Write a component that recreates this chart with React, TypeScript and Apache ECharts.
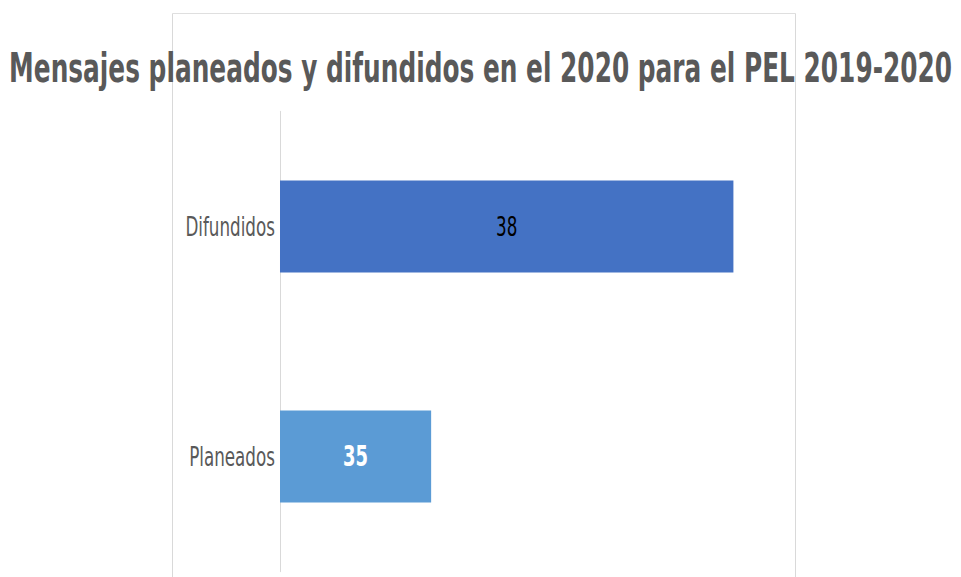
import React, { useEffect, useRef } from "react";
import * as echarts from "echarts";

const titleText = "Mensajes planeados y difundidos en el 2020 para el PEL 2019-2020";
const categories = ["Planeados", "Difundidos"];
const values = [35, 38];
const barColors = ["#5B9BD5", "#4472C4"];

// the reference is horizontally condensed: draw wider, then squeeze
const S = 0.69;
const W = 961 / S;
const px = (x: number) => x / S;

export default function App() {
  const ref = useRef<HTMLDivElement>(null);
  useEffect(() => {
    if (!ref.current) return;
    const chart = echarts.init(ref.current, null, { renderer: "svg" });
    const font = "'DejaVu Sans Condensed', 'DejaVu Sans', sans-serif";
    chart.setOption({
      animation: false,
      backgroundColor: "#ffffff",
      graphic: [
        {
          type: "line",
          z: -10,
          silent: true,
          shape: { x1: px(172.5), y1: 13.5, x2: px(795.5), y2: 13.5 },
          style: { stroke: "#d9d9d9", lineWidth: 1 },
        },
        {
          type: "line",
          z: -10,
          silent: true,
          shape: { x1: px(172.5), y1: 13.5, x2: px(172.5), y2: 600 },
          style: { stroke: "#d9d9d9", lineWidth: 1 / S },
        },
        {
          type: "line",
          z: -10,
          silent: true,
          shape: { x1: px(795.5), y1: 13.5, x2: px(795.5), y2: 600 },
          style: { stroke: "#d9d9d9", lineWidth: 1 / S },
        },
      ],
      title: {
        text: titleText,
        left: "center",
        top: 43,
        textStyle: {
          fontFamily: font,
          fontWeight: "bold",
          fontSize: 40,
          color: "#595959",
        },
      },
      grid: { left: px(280), right: W - px(834), top: 111.5, bottom: 5.5, containLabel: false },
      xAxis: {
        type: "value",
        min: 33.5,
        max: 39,
        show: false,
      },
      yAxis: {
        type: "category",
        data: categories,
        axisLine: { show: true, lineStyle: { color: "#d9d9d9", width: 1 / S } },
        axisTick: { show: false },
        axisLabel: {
          fontFamily: font,
          fontSize: 27,
          color: "#595959",
          margin: px(5),
        },
      },
      series: [
        {
          type: "bar",
          barWidth: "40%",
          data: values.map((v, i) => ({
            value: v,
            itemStyle: { color: barColors[i] },
            label:
              i === 0
                ? { show: true, position: "inside", color: "#ffffff", fontWeight: "bold", fontSize: 29, fontFamily: font }
                : { show: true, position: "inside", color: "#000000", fontWeight: "normal", fontSize: 27, fontFamily: font },
          })),
        },
      ],
    });
    return () => chart.dispose();
  }, []);
  return (
    <div style={{ position: "fixed", left: 0, top: 0, width: 961, height: 577, overflow: "hidden", background: "#fff" }}>
      <div
        ref={ref}
        style={{ width: W, height: 577, transform: `scaleX(${S})`, transformOrigin: "0 0" }}
      />
    </div>
  );
}
